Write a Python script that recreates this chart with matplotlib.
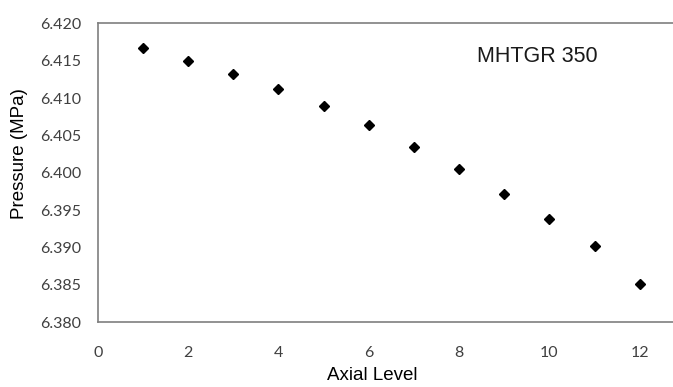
import matplotlib
matplotlib.use("Agg")
import matplotlib.pyplot as plt

axial_level = [1, 2, 3, 4, 5, 6, 7, 8, 9, 10, 11, 12]
pressure_mpa = [6.41666, 6.41492, 6.41322, 6.41121, 6.40894, 6.40635,
                6.40349, 6.40051, 6.39723, 6.39378, 6.39021, 6.38516]
y_ticks = [6.380, 6.385, 6.390, 6.395, 6.400, 6.405, 6.410, 6.415, 6.420]
x_ticks = [0, 2, 4, 6, 8, 10, 12]

W, H = 673, 387
fig = plt.figure(figsize=(W / 100, H / 100), dpi=100)
left, right, top, bottom = 97.7, 673, 23.3, 322.3
ax = fig.add_axes([left / W, 1 - bottom / H, (right - left) / W, (bottom - top) / H])

ax.plot(axial_level, pressure_mpa, linestyle='none', marker='D',
        markersize=5, color='black')

ax.set_xlim(0, (right - left) / ((639.7 - 97.7) / 12))
ax.set_ylim(6.380, 6.420)
ax.set_xticks(x_ticks)
ax.set_yticks(y_ticks)
ax.set_yticklabels([f"{v:.3f}" for v in y_ticks])

tick_font = dict(family=['Lato', 'DejaVu Sans'], size=11.5, color='#404040')
for lab in ax.get_xticklabels() + ax.get_yticklabels():
    lab.set_fontfamily(tick_font['family'])
    lab.set_fontsize(tick_font['size'])
    lab.set_color(tick_font['color'])
ax.tick_params(axis='both', length=0)
ax.tick_params(axis='y', pad=12)
ax.tick_params(axis='x', pad=17)

for s in ['left', 'bottom', 'top']:
    ax.spines[s].set_color('#7f7f7f')
    ax.spines[s].set_linewidth(1.2)
ax.spines['right'].set_visible(False)

label_font = dict(family=['Liberation Sans', 'DejaVu Sans'], size=13.5, color='black')
fig.text(20 / W, 1 - 154 / H, 'Pressure (MPa)', rotation=90, ha='center', va='center', **label_font)
fig.text(372 / W, 1 - 376 / H, 'Axial Level', ha='center', va='center', **label_font)

ax.text((537 - left) / (right - left), (bottom - 57) / (bottom - top), 'MHTGR 350',
        transform=ax.transAxes, ha='center', va='center',
        family=['Liberation Sans', 'DejaVu Sans'], fontsize=15.5, color='#1a1a1a')

fig.savefig('out.png', dpi=100)
